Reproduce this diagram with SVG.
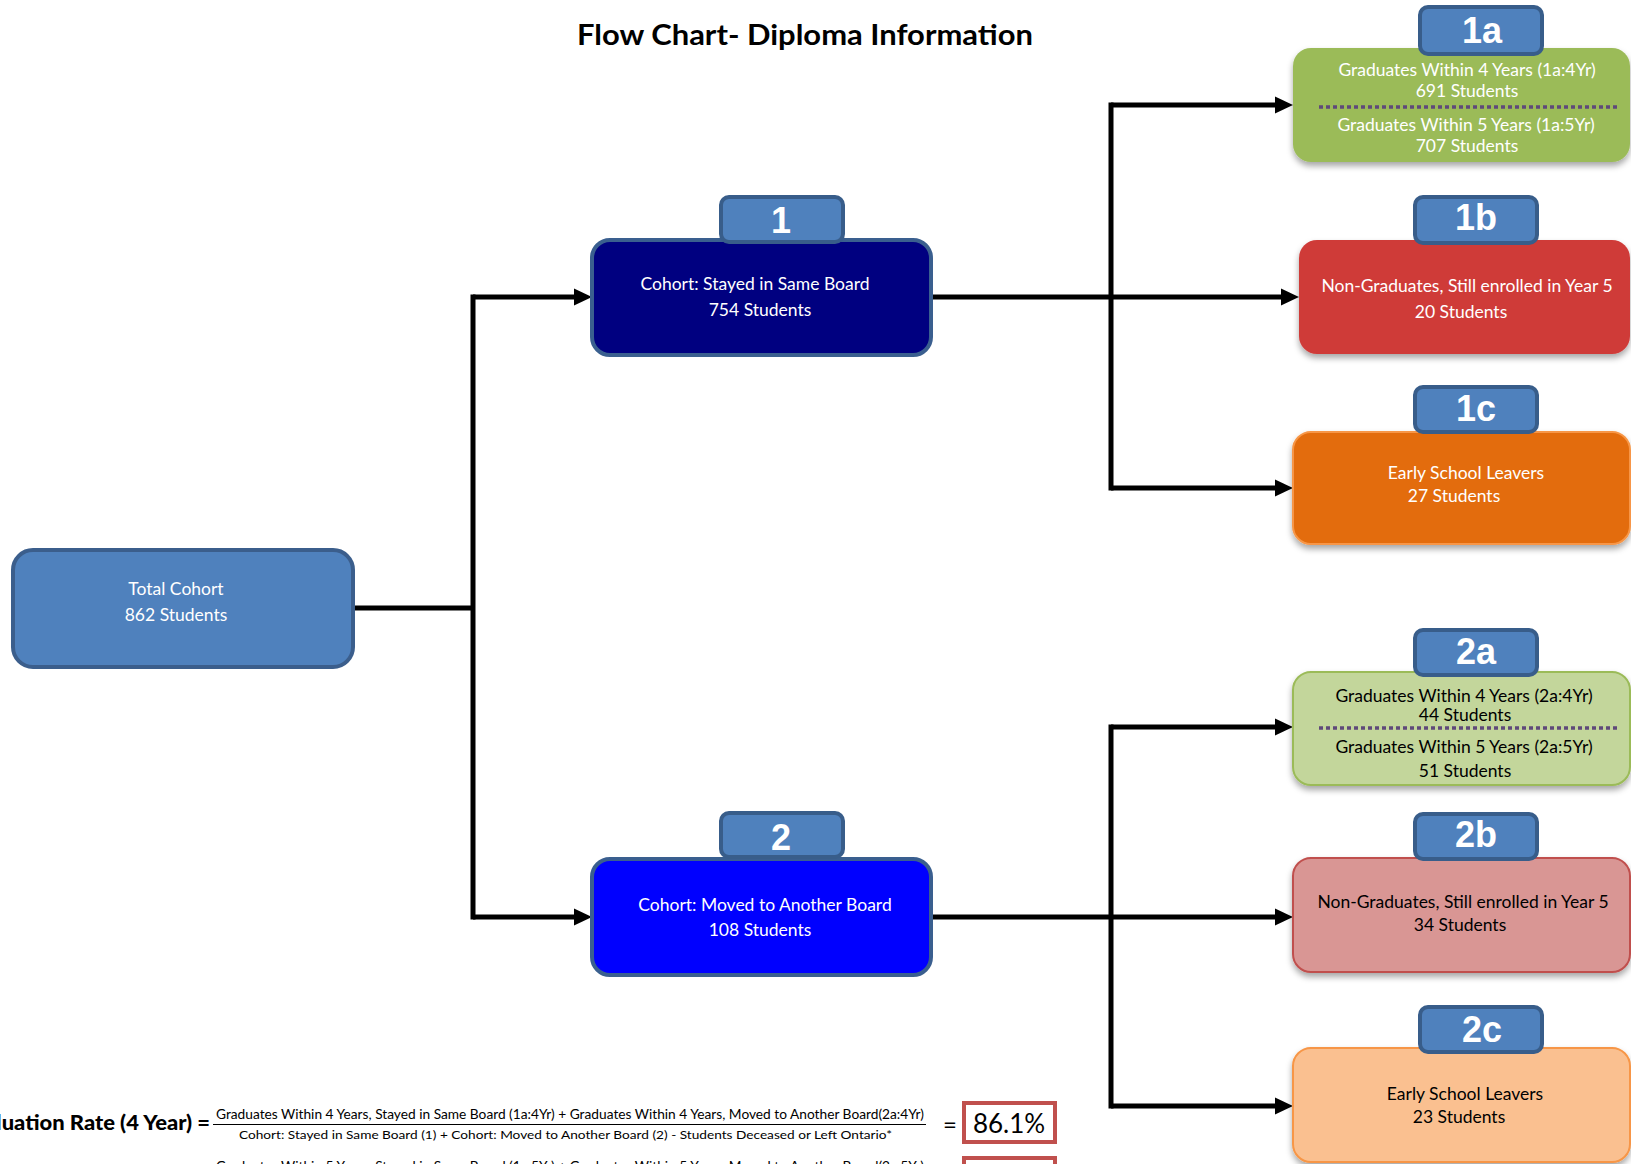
<svg xmlns="http://www.w3.org/2000/svg" width="1631" height="1164" viewBox="0 0 1631 1164">
<style>
.t{font-family:Lato,"Liberation Sans",sans-serif;font-size:17.5px;text-anchor:middle}
.w{fill:#ffffff}
.k{fill:#000000}
.tab{fill:#4F81BD;stroke:#385D8A;stroke-width:4}
.tabt{font-family:"Liberation Sans",Arial,sans-serif;font-weight:bold;font-size:36px;fill:#ffffff;text-anchor:middle}
.mid{stroke:#3A5F8F;stroke-width:4}
.ln{stroke:#000000;stroke-width:5;fill:none}
.dot{stroke:#5F497A;stroke-width:3.5;stroke-dasharray:4 3;fill:none}
.f{font-family:Lato,"Liberation Sans",sans-serif;fill:#000000}
</style>
<defs>
<marker id="ah" markerUnits="userSpaceOnUse" markerWidth="18" markerHeight="17" refX="6" refY="8.5" orient="auto" overflow="visible">
<path d="M0,0 L18,8.5 L0,17 z" fill="#000000"/>
</marker>
<filter id="sh" x="-10%" y="-20%" width="120%" height="150%">
<feDropShadow dx="0" dy="4" stdDeviation="3" flood-color="#000000" flood-opacity="0.35"/>
</filter>
</defs>
<rect width="1631" height="1164" fill="#ffffff"/>
<text x="577" y="45" textLength="456" lengthAdjust="spacingAndGlyphs" style="font-family:Lato,'Liberation Sans',sans-serif;font-weight:bold;font-size:28px" fill="#000000">Flow Chart- Diploma Information</text>

<g id="connectors">
<path class="ln" d="M353,608 H473"/>
<path class="ln" d="M473,297 V917" stroke-linecap="square"/>
<path class="ln" d="M473,297 H580" marker-end="url(#ah)"/>
<path class="ln" d="M473,917 H580" marker-end="url(#ah)"/>
<path class="ln" d="M931,297 H1287" marker-end="url(#ah)"/>
<path class="ln" d="M1111,105 V488" stroke-linecap="square"/>
<path class="ln" d="M1111,105 H1281" marker-end="url(#ah)"/>
<path class="ln" d="M1111,488 H1281" marker-end="url(#ah)"/>
<path class="ln" d="M931,917 H1281" marker-end="url(#ah)"/>
<path class="ln" d="M1111,727 V1106" stroke-linecap="square"/>
<path class="ln" d="M1111,727 H1281" marker-end="url(#ah)"/>
<path class="ln" d="M1111,1106 H1281" marker-end="url(#ah)"/>
</g>

<g id="total">
<rect x="13" y="550" width="340" height="117" rx="20" fill="#4F81BD" stroke="#3B5E8C" stroke-width="4"/>
<text class="t w" x="176" y="595">Total Cohort</text>
<text class="t w" x="176" y="621">862 Students</text>
</g>

<g id="node1">
<rect class="mid" x="592" y="240" width="339" height="115" rx="18" fill="#000080"/>
<rect class="tab" x="721" y="197" width="122" height="45" rx="8"/>
<text class="tabt" x="781" y="233">1</text>
<text class="t w" x="755" y="290">Cohort: Stayed in Same Board</text>
<text class="t w" x="760" y="316">754 Students</text>
</g>

<g id="node2">
<rect class="mid" x="592" y="859" width="339" height="116" rx="18" fill="#0000FF"/>
<rect class="tab" x="721" y="813" width="122" height="44" rx="8"/>
<text class="tabt" x="781" y="850">2</text>
<text class="t w" x="765" y="911">Cohort: Moved to Another Board</text>
<text class="t w" x="760" y="936">108 Students</text>
</g>

<g id="node1a">
<rect x="1293" y="48" width="337" height="114" rx="18" fill="#9BBB59" filter="url(#sh)"/>
<rect class="tab" x="1420" y="7" width="122" height="47" rx="8"/>
<text class="tabt" x="1482" y="43">1a</text>
<text class="t w" x="1467" y="76">Graduates Within 4  Years (1a:4Yr)</text>
<text class="t w" x="1467" y="97">691 Students</text>
<path class="dot" d="M1319,107 H1617"/>
<text class="t w" x="1466" y="131">Graduates Within 5 Years (1a:5Yr)</text>
<text class="t w" x="1467" y="152">707 Students</text>
</g>

<g id="node1b">
<rect x="1299" y="240" width="331" height="114" rx="18" fill="#CF3B38" filter="url(#sh)"/>
<rect class="tab" x="1415" y="197" width="122" height="46" rx="8"/>
<text class="tabt" x="1476" y="230">1b</text>
<text class="t w" x="1467" y="292">Non-Graduates, Still enrolled in Year 5</text>
<text class="t w" x="1461" y="318">20 Students</text>
</g>

<g id="node1c">
<rect x="1293" y="432" width="337" height="112" rx="18" fill="#E36C0A" stroke="#F79646" stroke-width="2" filter="url(#sh)"/>
<rect class="tab" x="1415" y="387" width="122" height="45" rx="8"/>
<text class="tabt" x="1476" y="421">1c</text>
<text class="t w" x="1466" y="479">Early School Leavers</text>
<text class="t w" x="1454" y="502">27 Students</text>
</g>

<g id="node2a">
<rect x="1293" y="672" width="337" height="113" rx="18" fill="#C3D69B" stroke="#9BBB59" stroke-width="2" filter="url(#sh)"/>
<rect class="tab" x="1415" y="630" width="122" height="45" rx="8"/>
<text class="tabt" x="1476" y="664">2a</text>
<text class="t k" x="1464" y="702">Graduates Within 4 Years (2a:4Yr)</text>
<text class="t k" x="1465" y="721">44 Students</text>
<path class="dot" d="M1319,728 H1617"/>
<text class="t k" x="1464" y="753">Graduates Within 5 Years (2a:5Yr)</text>
<text class="t k" x="1465" y="777">51 Students</text>
</g>

<g id="node2b">
<rect x="1293" y="858" width="337" height="114" rx="18" fill="#D99694" stroke="#C0504D" stroke-width="2" filter="url(#sh)"/>
<rect class="tab" x="1415" y="814" width="122" height="45" rx="8"/>
<text class="tabt" x="1476" y="847">2b</text>
<text class="t k" x="1463" y="908">Non-Graduates, Still enrolled in Year 5</text>
<text class="t k" x="1460" y="931">34 Students</text>
</g>

<g id="node2c">
<rect x="1293" y="1048" width="337" height="114" rx="18" fill="#FAC090" stroke="#F79646" stroke-width="2" filter="url(#sh)"/>
<rect class="tab" x="1420" y="1007" width="122" height="45" rx="8"/>
<text class="tabt" x="1482" y="1042">2c</text>
<text class="t k" x="1465" y="1100">Early School Leavers</text>
<text class="t k" x="1459" y="1123">23 Students</text>
</g>

<g id="formula">
<text class="f" x="-46" y="1130" textLength="256" lengthAdjust="spacingAndGlyphs" style="font-weight:900;font-size:20px">Graduation Rate (4 Year) =</text>
<text class="f" x="216" y="1119" style="font-size:12.5px" textLength="708" lengthAdjust="spacingAndGlyphs">Graduates Within 4 Years, Stayed in Same Board (1a:4Yr) + Graduates Within 4 Years, Moved to Another Board(2a:4Yr)</text>
<line x1="213" y1="1124.5" x2="926" y2="1124.5" stroke="#000000" stroke-width="1"/>
<text class="f" x="239" y="1139" style="font-size:12px" textLength="653" lengthAdjust="spacingAndGlyphs">Cohort: Stayed in Same Board (1) + Cohort: Moved to Another Board (2) - Students Deceased or Left Ontario*</text>
<text class="f" x="950" y="1133" style="font-size:24px;text-anchor:middle">=</text>
<rect x="964" y="1103" width="91" height="39" fill="#ffffff" stroke="#C0504D" stroke-width="4"/>
<text class="f" x="1009" y="1133" style="font-size:26px;text-anchor:middle">86.1%</text>
<text class="f" x="-46" y="1182" textLength="256" lengthAdjust="spacingAndGlyphs" style="font-weight:900;font-size:20px">Graduation Rate (5 Year) =</text>
<text class="f" x="216" y="1171" style="font-size:12.5px" textLength="708" lengthAdjust="spacingAndGlyphs">Graduates Within 5 Years, Stayed in Same Board (1a:5Yr) + Graduates Within 5 Years, Moved to Another Board(2a:5Yr)</text>
<rect x="964" y="1158" width="91" height="39" fill="#ffffff" stroke="#C0504D" stroke-width="4"/>
<text class="f" x="1009" y="1186" style="font-size:26px;text-anchor:middle">88.8%</text>
</g>
</svg>
